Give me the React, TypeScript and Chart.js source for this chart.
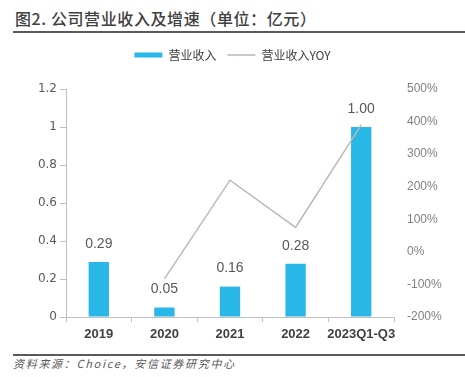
import React, { useEffect, useRef } from 'react';
import { Chart, registerables } from 'chart.js';

Chart.register(...registerables);

const titleText = '图2. 公司营业收入及增速（单位：亿元）';
const sourceText = '资料来源：Choice，安信证券研究中心';
const categories = ['2019', '2020', '2021', '2022', '2023Q1-Q3'];
const revenue = [0.29, 0.05, 0.16, 0.28, 1.0];
const revenueYoY = [null, -83, 220, 75, 390];
const seriesNames = ['营业收入', '营业收入YOY'];

const CJK = '"Noto Sans CJK SC", "Liberation Sans", sans-serif';

const valueLabels = {
  id: 'valueLabels',
  afterDatasetsDraw(chart: any) {
    const meta = chart.getDatasetMeta(0);
    const ctx = chart.ctx;
    ctx.save();
    ctx.font = '14px "Liberation Sans", sans-serif';
    ctx.fillStyle = '#595959';
    ctx.textAlign = 'center';
    ctx.textBaseline = 'middle';
    meta.data.forEach((bar: any, i: number) => {
      ctx.fillText(revenue[i].toFixed(2), bar.x, bar.y - 18);
    });
    ctx.restore();
  },
};

export default function App() {
  const ref = useRef<HTMLCanvasElement>(null);

  useEffect(() => {
    if (!ref.current) return;
    const chart = new Chart(ref.current, {
      type: 'bar',
      data: {
        labels: categories,
        datasets: [
          {
            type: 'bar',
            label: seriesNames[0],
            data: revenue,
            backgroundColor: '#29B7E8',
            borderWidth: 0,
            yAxisID: 'y',
            order: 2,
            categoryPercentage: 1,
            barPercentage: 0.31,
            pointStyle: 'rect',
          } as any,
          {
            type: 'line',
            label: seriesNames[1],
            data: revenueYoY,
            borderColor: '#BDB6B6',
            backgroundColor: '#BDB6B6',
            borderWidth: 1.5,
            pointRadius: 0,
            yAxisID: 'y1',
            order: 1,
            pointStyle: 'line',
          } as any,
        ],
      },
      options: {
        animation: false,
        responsive: false,
        maintainAspectRatio: false,
        layout: { padding: { top: 0, left: 0, right: 0, bottom: 0 } },
        plugins: {
          tooltip: { enabled: false },
          legend: {
            display: true,
            position: 'top',
            labels: {
              usePointStyle: true,
              pointStyleWidth: 28,
              boxHeight: 5,
              padding: 11,
              color: '#404040',
              font: { family: CJK, size: 12 },
              sort: (a: any, b: any) => a.datasetIndex - b.datasetIndex,
            },
          },
          subtitle: {
            display: true,
            text: ' ',
            position: 'top',
            weight: 500,
            font: { size: 1, lineHeight: 1 },
            padding: { top: 17, bottom: 0 },
          },
        },
        scales: {
          x: {
            offset: true,
            grid: {
              drawOnChartArea: false,
              offset: true,
              tickLength: 5,
              color: '#BFBFBF',
            },
            border: { color: '#BFBFBF' },
            ticks: {
              color: '#404040',
              padding: 5,
              font: { family: '"Liberation Sans", sans-serif', size: 13, weight: 'bold' },
              maxRotation: 0,
              autoSkip: false,
            },
            afterFit(scale: any) {
              scale.height = 33;
            },
          },
          y: {
            position: 'left',
            min: 0,
            max: 1.2,
            ticks: {
              stepSize: 0.2,
              color: '#595959',
              padding: 3,
              font: { family: '"DejaVu Sans", sans-serif', size: 12 },
              callback: (v: any) => String(Math.round(Number(v) * 10) / 10),
            },
            grid: {
              drawOnChartArea: false,
              tickLength: 6,
              color: '#BFBFBF',
            },
            border: { color: '#BFBFBF' },
            afterFit(scale: any) {
              scale.width = 66;
            },
          },
          y1: {
            position: 'right',
            min: -200,
            max: 500,
            ticks: {
              stepSize: 100,
              color: '#808080',
              padding: 13,
              font: { family: '"Liberation Sans", sans-serif', size: 12 },
              callback: (v: any) => `${v}%`,
            },
            grid: { display: false, drawTicks: false },
            border: { display: false },
            afterFit(scale: any) {
              scale.width = 71;
            },
          },
        },
      } as any,
      plugins: [valueLabels],
    });
    return () => chart.destroy();
  }, []);

  return (
    <div
      style={{
        position: 'fixed',
        left: 0,
        top: 0,
        width: 465,
        height: 377,
        background: '#ffffff',
        overflow: 'hidden',
      }}
    >
      <div
        style={{
          position: 'absolute',
          left: 15,
          top: 7,
          fontFamily: CJK,
          fontSize: 16,
          fontWeight: 500,
          letterSpacing: '0.6px',
          color: '#404040',
          lineHeight: '22px',
          whiteSpace: 'nowrap',
        }}
      >
        {titleText}
      </div>
      <div
        style={{ position: 'absolute', left: 13, top: 31, width: 452, height: 2, background: '#595959' }}
      />
      <canvas
        ref={ref}
        width={465}
        height={312}
        style={{ position: 'absolute', left: 0, top: 38, width: 465, height: 312 }}
      />
      <div
        style={{ position: 'absolute', left: 13, top: 354, width: 452, height: 2, background: '#595959' }}
      />
      <div
        style={{
          position: 'absolute',
          left: 13,
          top: 356,
          fontFamily: CJK,
          fontSize: 11,
          fontStyle: 'italic',
          letterSpacing: '1.7px',
          color: '#595959',
          lineHeight: '15px',
          whiteSpace: 'nowrap',
        }}
      >
        {sourceText}
      </div>
    </div>
  );
}
